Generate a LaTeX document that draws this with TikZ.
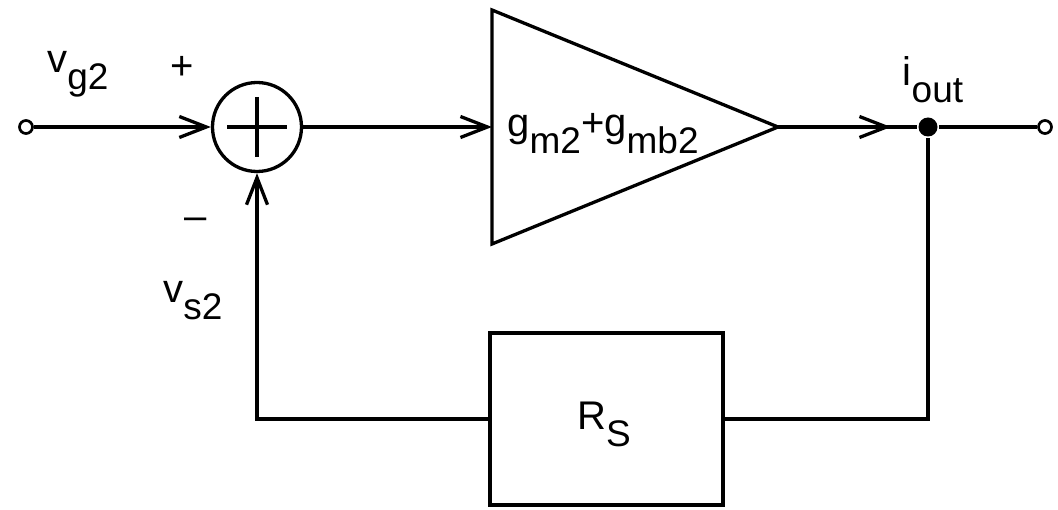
\documentclass[tikz,border=0pt]{standalone}
\usepackage{fontspec}
\setmainfont{Liberation Sans}
\usetikzlibrary{arrows.meta}
\newcommand{\bigf}{\fontsize{40}{46}\selectfont}
\newcommand{\lab}[2]{{\bigf #1\raisebox{-17pt}{\fontsize{37}{42}\selectfont #2}}}
\begin{document}
\begin{tikzpicture}[x=1pt,y=-1pt,line width=3.3pt,
  arr/.style={-{Straight Barb[length=27pt,width=21pt,line width=3.3pt]}},
  term/.style={circle,draw,line width=2.7pt,minimum size=13pt,inner sep=0pt},
  lbl/.style={inner sep=0pt,font=\bigf}]
\useasboundingbox (0,0) rectangle (1058,510);
% nodes
\node[term] (in) at (26,127) {};
\node[circle,draw,minimum size=89pt,inner sep=0pt] (sum) at (257,127) {};
\draw (sum.center) ++(-30,0) -- ++(60,0);
\draw (sum.center) ++(0,-30) -- ++(0,60);
\coordinate (ampin) at (492,127);
\coordinate (ampout) at (778,127);
\draw[line join=miter] (492,10) -- (ampout) -- (492,244) -- cycle;
\node[circle,fill,inner sep=0pt,minimum size=19pt] (dot) at (928,127) {};
\node[term] (oterm) at (1045,127) {};
\coordinate (tip) at (891,127);
\node[draw,minimum width=233pt,minimum height=172pt,inner sep=0pt] (rs) at (606.5,419) {};
% connectors
\draw[arr] (in) -- (sum);
\draw[arr] (sum) -- (ampin);
\draw (ampout) -- (dot);
\draw[arr] (ampout) -- (tip);
\draw (dot) -- (oterm);
\draw (dot) |- (rs.east);
\draw[arr] (rs.west) -| (sum.south);
% labels
\node[lbl] (vg2) at (78,74) {\lab{v}{g2}};
\node[lbl] (plus) at (182,68) {+};
\node[lbl] (minus) at (196,224) {\textendash};
\node[lbl] (vs2) at (193,301) {\lab{v}{s2}};
\node[lbl] (gain) at (603,134) {\lab{g}{m2}\lab{+g}{mb2}};
\node[lbl] (iout) at (933,80) {\lab{i}{out}};
\node[lbl] (rsl) at (604,424) {\lab{R}{S}};
\end{tikzpicture}
\end{document}
